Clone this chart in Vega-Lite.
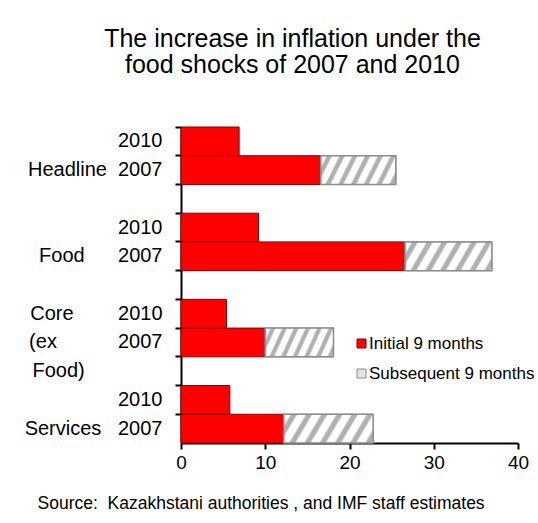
{
  "$schema": "https://vega.github.io/schema/vega-lite/v6.json",
  "width": 337,
  "height": 316,
  "autosize": "none",
  "padding": {"left": 181, "top": 127, "right": 20, "bottom": 80},
  "background": "white",
  "config": {
    "font": "Liberation Sans",
    "view": {"stroke": null},
    "axis": {"grid": false}
  },
  "title": {
    "text": ["The increase in inflation under the", "food shocks of 2007 and 2010"],
    "fontSize": 25,
    "fontWeight": "normal",
    "font": "Liberation Sans",
    "color": "#000000",
    "anchor": "middle",
    "frame": "group",
    "offset": 48,
    "dx": -57,
    "lineHeight": 26
  },
  "data": {
    "values": [
      {"group": "Headline", "year": "2010", "row": "Headline 2010", "series": "Initial 9 months", "value": 6.9},
      {"group": "Headline", "year": "2007", "row": "Headline 2007", "series": "Initial 9 months", "value": 16.6},
      {"group": "Headline", "year": "2007", "row": "Headline 2007", "series": "Subsequent 9 months", "value": 8.9},
      {"group": "Food", "year": "2010", "row": "Food 2010", "series": "Initial 9 months", "value": 9.2},
      {"group": "Food", "year": "2007", "row": "Food 2007", "series": "Initial 9 months", "value": 26.6},
      {"group": "Food", "year": "2007", "row": "Food 2007", "series": "Subsequent 9 months", "value": 10.3},
      {"group": "Core (ex Food)", "year": "2010", "row": "Core 2010", "series": "Initial 9 months", "value": 5.4},
      {"group": "Core (ex Food)", "year": "2007", "row": "Core 2007", "series": "Initial 9 months", "value": 10.0},
      {"group": "Core (ex Food)", "year": "2007", "row": "Core 2007", "series": "Subsequent 9 months", "value": 8.1},
      {"group": "Services", "year": "2010", "row": "Services 2010", "series": "Initial 9 months", "value": 5.8},
      {"group": "Services", "year": "2007", "row": "Services 2007", "series": "Initial 9 months", "value": 12.2},
      {"group": "Services", "year": "2007", "row": "Services 2007", "series": "Subsequent 9 months", "value": 10.6}
    ]
  },
  "transform": [
    {"stack": "value", "groupby": ["row"], "sort": [{"field": "series", "order": "ascending"}], "as": ["x0", "x1"]}
  ],
  "layer": [
    {
      "mark": {"type": "bar", "strokeWidth": 1},
      "encoding": {
        "y": {
          "field": "row",
          "type": "nominal",
          "sort": null,
          "scale": {
            "domain": ["Headline 2010", "Headline 2007", "gap1", "Food 2010", "Food 2007", "gap2", "Core 2010", "Core 2007", "gap3", "Services 2010", "Services 2007"],
            "paddingInner": 0,
            "paddingOuter": 0
          },
          "axis": {
            "orient": "left",
            "title": null,
            "labelExpr": "datum.value == 'Headline 2007' ? 'Headline\u00a0\u00a02007' : datum.value == 'Food 2007' ? 'Food\u00a0\u00a0\u00a0\u00a0\u00a0\u00a02007' : datum.value == 'Core 2010' ? 'Core\u00a0\u00a0\u00a0\u00a0\u00a0\u00a0\u00a0\u00a02010' : datum.value == 'Core 2007' ? '(ex\u00a0\u00a0\u00a0\u00a0\u00a0\u00a0\u00a0\u00a0\u00a0\u00a0\u00a02007' : datum.value == 'gap3' ? 'Food)\u00a0\u00a0\u00a0\u00a0\u00a0\u00a0\u00a0\u00a0\u00a0\u00a0\u00a0\u00a0\u00a0\u00a0\u200b' : datum.value == 'Services 2007' ? 'Services\u00a0\u00a0\u00a02007' : indexof(datum.value, 'gap') >= 0 ? '' : slice(datum.value, -4)",
            "bandPosition": 0,
            "labelOffset": 0,
            "labelBaseline": "middle",
            "tickSize": 6,
            "tickWidth": 2,
            "tickColor": "#000000",
            "domainColor": "#000000",
            "domainWidth": 2,
            "labelFontSize": 20,
            "labelColor": "#000000",
            "labelPadding": 13,
            "labelLimit": 300
          }
        },
        "x": {
          "field": "x0",
          "type": "quantitative",
          "scale": {"domain": [0, 40], "nice": false},
          "axis": {
            "orient": "bottom",
            "values": [0, 10, 20, 30, 40],
            "tickSize": 6,
            "tickWidth": 2,
            "tickColor": "#000000",
            "domainColor": "#000000",
            "domainWidth": 2,
            "labelFontSize": 19,
            "labelColor": "#000000",
            "labelPadding": 4,
            "labelFlush": false,
            "labelOverlap": false,
            "title": "Source:\u00a0\u00a0Kazakhstani authorities , and IMF staff estimates",
            "titleFontSize": 17.5,
            "titleFontWeight": "normal",
            "titleColor": "#000000",
            "titleAnchor": "start",
            "titleAlign": "left",
            "titleX": -144,
            "titleY": 60,
            "titleBaseline": "middle"
          }
        },
        "x2": {"field": "x1"},
        "fill": {
          "field": "series",
          "type": "nominal",
          "scale": {"domain": ["Initial 9 months", "Subsequent 9 months"], "range": ["#ff0000", "#e4e4e4"]},
          "legend": {
            "orient": "none",
            "legendX": 172,
            "legendY": 208,
            "title": null,
            "labelFontSize": 17,
            "labelColor": "#000000",
            "labelLimit": 300,
            "symbolType": "square",
            "symbolSize": 81,
            "symbolStrokeWidth": 1,
            "symbolStrokeColor": "#555555",
            "rowPadding": 12,
            "labelOffset": -1,
            "padding": 0
          }
        },
        "stroke": {
          "field": "series",
          "type": "nominal",
          "scale": {"domain": ["Initial 9 months", "Subsequent 9 months"], "range": ["#8b0000", "#8c8c8c"]},
          "legend": null
        }
      }
    },
    {
      "transform": [{"filter": "datum.series == 'Subsequent 9 months'"}],
      "mark": {
        "type": "bar",
        "stroke": "#8c8c8c",
        "strokeWidth": 1.5,
        "fill": {
          "gradient": "linear",
          "x1": 0, "y1": 0, "x2": 1.15, "y2": 0.22,
          "stops": [
            {"offset": 0, "color": "#ffffff"},
            {"offset": 0.0571, "color": "#ffffff"}, {"offset": 0.0786, "color": "#b0b0b0"}, {"offset": 0.1143, "color": "#b0b0b0"}, {"offset": 0.1357, "color": "#ffffff"},
            {"offset": 0.2, "color": "#ffffff"}, {"offset": 0.2214, "color": "#b0b0b0"}, {"offset": 0.2571, "color": "#b0b0b0"}, {"offset": 0.2786, "color": "#ffffff"},
            {"offset": 0.3429, "color": "#ffffff"}, {"offset": 0.3643, "color": "#b0b0b0"}, {"offset": 0.4, "color": "#b0b0b0"}, {"offset": 0.4214, "color": "#ffffff"},
            {"offset": 0.4857, "color": "#ffffff"}, {"offset": 0.5071, "color": "#b0b0b0"}, {"offset": 0.5429, "color": "#b0b0b0"}, {"offset": 0.5643, "color": "#ffffff"},
            {"offset": 0.6286, "color": "#ffffff"}, {"offset": 0.65, "color": "#b0b0b0"}, {"offset": 0.6857, "color": "#b0b0b0"}, {"offset": 0.7071, "color": "#ffffff"},
            {"offset": 0.7714, "color": "#ffffff"}, {"offset": 0.7929, "color": "#b0b0b0"}, {"offset": 0.8286, "color": "#b0b0b0"}, {"offset": 0.85, "color": "#ffffff"},
            {"offset": 0.9143, "color": "#ffffff"}, {"offset": 0.9357, "color": "#b0b0b0"}, {"offset": 0.9714, "color": "#b0b0b0"}, {"offset": 0.9929, "color": "#ffffff"},
            {"offset": 1, "color": "#ffffff"}
          ]
        }
      },
      "encoding": {
        "y": {"field": "row", "type": "nominal", "sort": null},
        "x": {"field": "x0", "type": "quantitative"},
        "x2": {"field": "x1"}
      }
    }
  ]
}
